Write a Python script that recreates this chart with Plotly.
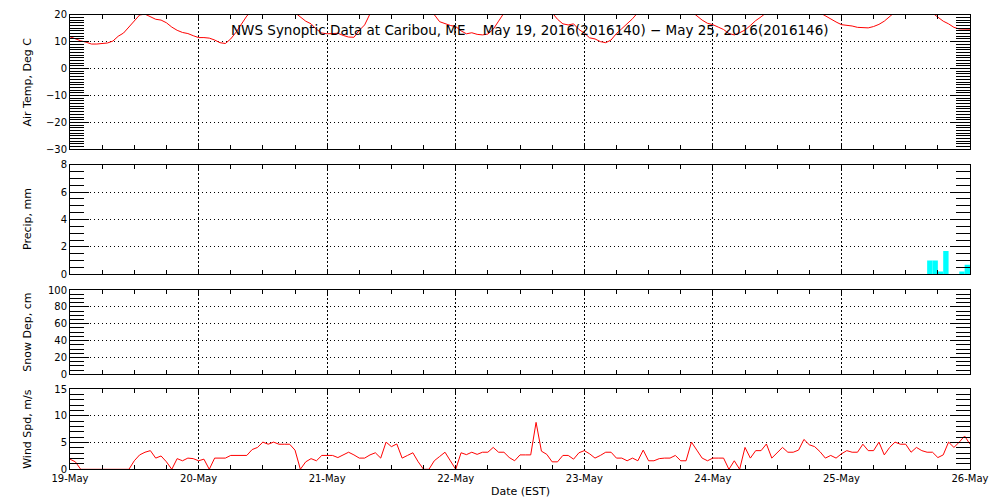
import plotly.graph_objects as go
import pandas as pd

# ---------------- data ----------------
hours = pd.date_range("2016-05-19 00:00", "2016-05-26 00:00", freq="h")

air_temp = [
    11.8, 11.0, 10.3, 9.8, 9.1, 9.1, 9.3, 9.5, 10.2, 12.0,
    13.2, 15.4, 17.6, 19.9, 20.2, 19.2, 18.3, 18.0, 17.0, 15.4,
    14.2, 13.4, 13.0, 12.2, 11.5, 11.5, 11.3, 10.6, 9.6, 9.3,
    11.0, 13.5, 16.6, 19.5, 21.5, 22.8, 23.6, 24.2, 24.5, 24.2,
    23.5, 22.3, 20.8, 19.3, 17.6, 16.6, 14.6, 13.2, 12.9, 13.0,
    13.1, 12.3, 11.7, 11.6, 14.2, 16.2, 20.3, 22.0, 23.5, 24.5,
    25.3, 25.8, 26.0, 25.8, 25.0, 24.0, 22.8, 21.3, 20.0, 17.4,
    16.6, 16.0, 15.6, 14.0, 12.9, 13.3, 12.7, 12.5, 12.8, 14.6,
    17.6, 20.6, 22.0, 23.2, 24.0, 24.6, 24.8, 24.5, 23.6, 22.2,
    20.7, 18.3, 16.6, 16.2, 16.6, 14.5, 13.2, 11.4, 11.0, 10.0,
    9.6, 10.6, 13.0, 14.8, 16.6, 18.5, 20.8, 22.8, 24.2, 25.3,
    26.0, 26.3, 26.2, 25.6, 24.4, 22.8, 21.0, 19.4, 18.0, 16.8,
    16.3, 15.4, 14.5, 13.0, 12.5, 13.3, 14.3, 16.0, 17.8, 19.2,
    21.0, 22.4, 23.5, 24.3, 24.8, 25.0, 24.7, 24.0, 23.0, 21.8,
    20.6, 19.4, 18.4, 17.3, 16.3, 16.1, 15.8, 15.3, 15.1, 15.1,
    15.6, 16.4, 17.6, 19.5, 21.0, 22.0, 22.7, 23.0, 22.8, 22.2,
    21.3, 20.6, 19.0, 17.6, 16.6, 15.3, 14.7, 14.6, 14.6,
]

wind_spd = [
    1.9, 1.4, 0.0, 0.0, 0.0, 0.0, 0.0, 0.0, 0.0, 0.0,
    0.0, 0.0, 1.6, 2.7, 3.2, 3.5, 2.1, 2.5, 1.4, 0.0,
    2.0, 1.6, 2.1, 2.0, 1.6, 1.9, 0.0, 2.1, 2.1, 2.1,
    2.6, 2.6, 2.6, 2.6, 3.7, 4.1, 5.1, 4.7, 5.1, 4.7,
    4.7, 4.7, 3.6, 0.0, 1.4, 2.0, 1.6, 2.6, 2.6, 2.6,
    2.2, 2.7, 3.2, 2.7, 2.1, 2.1, 2.7, 3.1, 2.1, 5.1,
    4.25, 4.75, 2.1, 2.6, 3.1, 1.4, 0.0, 0.0, 1.6, 2.4,
    3.2, 1.6, 0.0, 3.1, 2.75, 3.2, 2.8, 3.2, 3.2, 4.1,
    3.2, 3.2, 2.2, 1.6, 2.7, 2.7, 2.7, 8.8, 3.4, 2.8,
    1.4, 1.4, 2.6, 2.6, 1.9, 3.1, 3.5, 2.9, 2.1, 2.6,
    3.2, 3.2, 2.1, 2.1, 1.6, 2.1, 1.6, 3.6, 1.6, 1.6,
    2.0, 2.1, 2.1, 2.6, 1.6, 1.6, 5.1, 3.6, 2.1, 1.6,
    2.1, 2.1, 2.1, 0.0, 1.6, 0.0, 4.1, 2.1, 3.5, 3.5,
    4.75, 2.1, 3.2, 4.1, 3.2, 3.2, 3.6, 5.6, 4.6, 4.25,
    3.3, 2.1, 2.6, 2.1, 2.9, 3.5, 3.2, 3.2, 4.7, 3.5,
    3.5, 5.1, 2.7, 4.1, 5.1, 4.7, 4.7, 3.2, 4.1, 3.5,
    3.2, 3.2, 2.2, 2.7, 5.1, 4.1, 5.1, 6.25, 4.7,
]

precip_times = pd.to_datetime([
    "2016-05-25 16:00", "2016-05-25 17:00", "2016-05-25 18:00",
    "2016-05-25 19:00", "2016-05-25 22:00", "2016-05-25 23:00",
])
precip_mm = [1.0, 1.0, 0.2, 1.7, 0.2, 0.7]

snow_times = []
snow_depth = []

title_text = ("NWS Synoptic Data at Caribou, ME\u00a0\u00a0\u00a0 May 19, 2016(2016140)"
              " \u2212 May 25, 2016(2016146)")
panel_labels = ["Air Temp, Deg C", "Precip, mm", "Snow Dep, cm", "Wind Spd, m/s"]
x_label = "Date (EST)"

# ---------------- figure ----------------
FONT = "DejaVu Sans"
HOUR_MS = 3600 * 1000
DAY_MS = 24 * HOUR_MS

fig = go.Figure()
fig.add_trace(go.Scatter(x=hours, y=air_temp, mode="lines",
                         line=dict(color="#ff0000", width=1),
                         xaxis="x", yaxis="y", hoverinfo="skip"))
fig.add_trace(go.Bar(x=precip_times, y=precip_mm, width=HOUR_MS, offset=0,
                     marker=dict(color="#00ffff", line=dict(width=0)),
                     xaxis="x2", yaxis="y2", hoverinfo="skip"))
fig.add_trace(go.Scatter(x=snow_times, y=snow_depth, mode="lines",
                         line=dict(color="#ff0000", width=1),
                         xaxis="x3", yaxis="y3", hoverinfo="skip"))
fig.add_trace(go.Scatter(x=hours, y=wind_spd, mode="lines",
                         line=dict(color="#ff0000", width=1),
                         xaxis="x4", yaxis="y4", hoverinfo="skip"))

H = 500.0
panels_px = [(14.7, 149.3), (164.7, 274.3), (290.0, 374.3), (389.3, 469.3)]
domains = [[1 - b / H, 1 - t / H] for t, b in panels_px]

y_specs = [
    dict(range=[-30, 20], dtick=10, tick0=0, minor=1),
    dict(range=[0, 8], dtick=2, tick0=0, minor=0.5),
    dict(range=[0, 100], dtick=20, tick0=0, minor=5),
    dict(range=[0, 15], dtick=5, tick0=0, minor=1),
]

layout = dict(
    width=1000, height=500,
    margin=dict(l=0, r=0, t=0, b=0, autoexpand=False),
    paper_bgcolor="white", plot_bgcolor="white",
    showlegend=False,
    font=dict(family=FONT, color="black", size=10),
)

for i in range(4):
    n = "" if i == 0 else str(i + 1)
    xa = dict(
        domain=[0.07, 0.97], anchor="y" + n, type="date", automargin=False,
        range=["2016-05-19 00:00", "2016-05-26 00:00"],
        tick0="2016-05-19", dtick=DAY_MS,
        ticks="inside", ticklen=4, tickcolor="black", tickwidth=1,
        showline=True, linecolor="black", linewidth=1, mirror="allticks",
        showgrid=True, gridcolor="black", gridwidth=1, griddash="2px,2px",
        zeroline=False, fixedrange=True,
        minor=dict(tick0="2016-05-19", dtick=6 * HOUR_MS, ticks="inside",
                   ticklen=4, tickcolor="black", tickwidth=1, showgrid=False),
        showticklabels=(i == 3), tickformat="%d-%b",
        tickfont=dict(family=FONT, size=10, color="black"),
    )
    s = y_specs[i]
    ya = dict(
        domain=domains[i], anchor="x" + n, range=s["range"], automargin=False,
        tick0=s["tick0"], dtick=s["dtick"],
        ticks="inside", ticklen=19, tickcolor="black", tickwidth=1,
        showline=True, linecolor="black", linewidth=1, mirror="allticks",
        showgrid=True, gridcolor="black", gridwidth=1, griddash="1px,3px",
        zeroline=False, fixedrange=True,
        minor=dict(dtick=s["minor"], ticks="inside", ticklen=14,
                   tickcolor="black", tickwidth=1, showgrid=False),
        tickfont=dict(family=FONT, size=10, color="black"),
    )
    layout["xaxis" + n] = xa
    layout["yaxis" + n] = ya

annotations = [
    dict(text=title_text, x=0.53, y=1 - 30 / H, xref="paper", yref="paper",
         xanchor="center", yanchor="middle", showarrow=False,
         font=dict(family=FONT, size=13.5, color="black")),
    dict(text=x_label, x=0.52, y=1 - 491 / H, xref="paper", yref="paper",
         xanchor="center", yanchor="middle", showarrow=False,
         font=dict(family=FONT, size=11, color="black")),
]
for i, lab in enumerate(panel_labels):
    d = domains[i]
    annotations.append(dict(text=lab, x=0.0275, y=(d[0] + d[1]) / 2,
                            xref="paper", yref="paper", textangle=-90,
                            xanchor="center", yanchor="middle", showarrow=False,
                            font=dict(family=FONT, size=11, color="black")))
layout["annotations"] = annotations

fig.update_layout(**layout)
fig.write_html(
    "out.html",
    config={"displayModeBar": False},
    post_script="document.body.style.margin='0px';document.body.style.overflow='hidden';",
)
